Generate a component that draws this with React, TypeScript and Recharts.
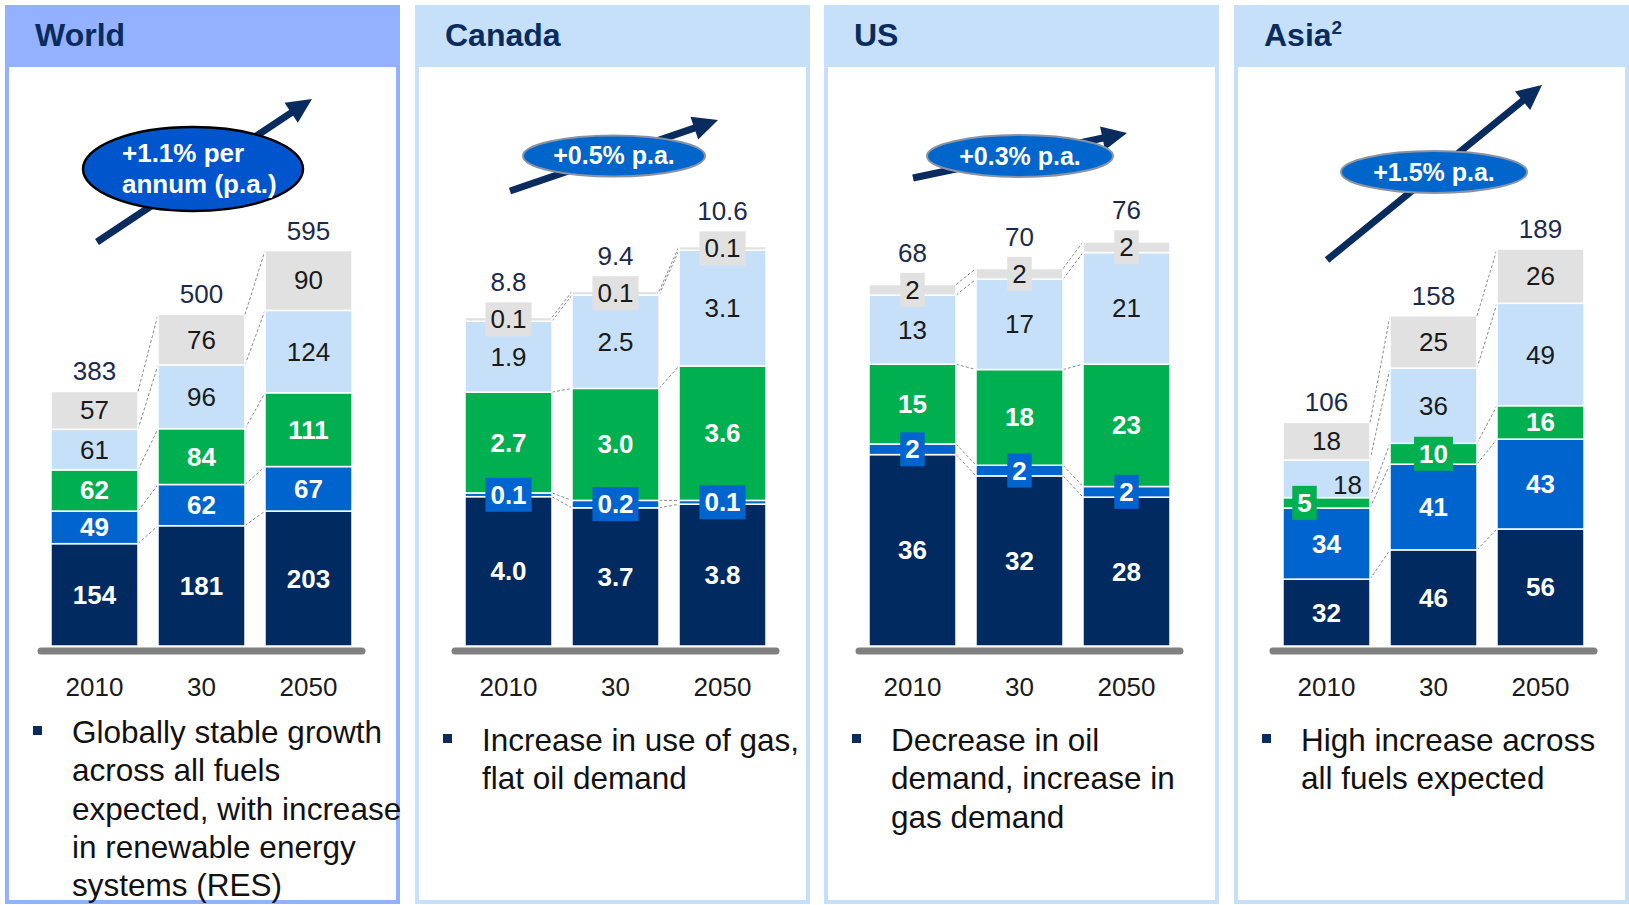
import React from "react";
import { BarChart, Bar, XAxis, YAxis } from "recharts";

const categories = ["2010", "30", "2050"];

// World
const worldOil = [154, 181, 203];
const worldCoal = [49, 62, 67];
const worldGas = [62, 84, 111];
const worldPower = [61, 96, 124];
const worldOther = [57, 76, 90];
const worldTotals = [383, 500, 595];

// Canada
const canadaOil = [4.0, 3.7, 3.8];
const canadaCoal = [0.1, 0.2, 0.1];
const canadaGas = [2.7, 3.0, 3.6];
const canadaPower = [1.9, 2.5, 3.1];
const canadaOther = [0.1, 0.1, 0.1];
const canadaTotals = [8.8, 9.4, 10.6];

// US
const usOil = [36, 32, 28];
const usCoal = [2, 2, 2];
const usGas = [15, 18, 23];
const usPower = [13, 17, 21];
const usOther = [2, 2, 2];
const usTotals = [68, 70, 76];

// Asia
const asiaOil = [32, 46, 56];
const asiaCoal = [34, 41, 43];
const asiaGas = [5, 10, 16];
const asiaPower = [18, 36, 49];
const asiaOther = [18, 25, 26];
const asiaTotals = [106, 158, 189];

const SERIES = [
  { key: "oil", color: "#002A60", text: "#ffffff", bold: true },
  { key: "coal", color: "#0064CE", text: "#ffffff", bold: true },
  { key: "gas", color: "#00AF50", text: "#ffffff", bold: true },
  { key: "power", color: "#C6E0F9", text: "#1a1a1a", bold: false },
  { key: "other", color: "#E1E1E1", text: "#1a1a1a", bold: false },
];

const FONT = '"Liberation Sans", Arial, sans-serif';
const NAVY = "#0A2B5E";
const GAP = 10; // barCategoryGap in px
const PLOT_W = 321;
const PLOT_H = 420;
const PLOT_TOP = 221;

const makeRows = (oil: number[], coal: number[], gas: number[], power: number[], other: number[]) =>
  categories.map((year, i) => ({ year, oil: oil[i], coal: coal[i], gas: gas[i], power: power[i], other: other[i] }));

const panels = [
  {
    id: "world", left: 5, title: "World", sup: "", header: "#93B1FE",
    rows: makeRows(worldOil, worldCoal, worldGas, worldPower, worldOther),
    totals: worldTotals, yMax: 632, decimals: 0, plotLeft: 36,
    note: ["Globally stable growth", "across all fuels", "expected, with increase", "in renewable energy", "systems (RES)"],
    noteTop: 713,
    bubble: { cx: 188, cy: 164, rx: 110, ry: 42, fill: "#0055CC", stroke: "#000", sw: 2.5, lines: ["+1.1% per", "annum (p.a.)"], tx: 117, ty: 157, size: 26 },
    arrow: { x1: 92, y1: 237, x2: 307, y2: 94 },
    nudges: {} as Record<string, { dx?: number; dy?: number }>,
  },
  {
    id: "canada", left: 415, title: "Canada", sup: "", header: "#C6E0FA",
    rows: makeRows(canadaOil, canadaCoal, canadaGas, canadaPower, canadaOther),
    totals: canadaTotals, yMax: 11.25, decimals: 1, plotLeft: 40,
    note: ["Increase in use of gas,", "flat oil demand"],
    noteTop: 721,
    bubble: { cx: 199, cy: 151, rx: 91, ry: 20.5, fill: "#0066CC", stroke: "#8893a6", sw: 2, lines: ["+0.5% p.a."], tx: 199, ty: 159, size: 25 },
    arrow: { x1: 95, y1: 186, x2: 303, y2: 115 },
    nudges: {} as Record<string, { dx?: number; dy?: number }>,
  },
  {
    id: "us", left: 824, title: "US", sup: "", header: "#C6E0FA",
    rows: makeRows(usOil, usCoal, usGas, usPower, usOther),
    totals: usTotals, yMax: 79, decimals: 0, plotLeft: 35,
    note: ["Decrease in oil", "demand, increase in", "gas demand"],
    noteTop: 721,
    bubble: { cx: 196, cy: 151, rx: 93, ry: 21, fill: "#0066CC", stroke: "#8893a6", sw: 2, lines: ["+0.3% p.a."], tx: 196, ty: 160, size: 25 },
    arrow: { x1: 89, y1: 173, x2: 303, y2: 128 },
    nudges: {} as Record<string, { dx?: number; dy?: number }>,
  },
  {
    id: "asia", left: 1234, title: "Asia", sup: "2", header: "#C6E0FA",
    rows: makeRows(asiaOil, asiaCoal, asiaGas, asiaPower, asiaOther),
    totals: asiaTotals, yMax: 201, decimals: 0, plotLeft: 39,
    note: ["High increase across", "all fuels expected"],
    noteTop: 721,
    bubble: { cx: 200, cy: 167, rx: 93, ry: 21, fill: "#0066CC", stroke: "#8893a6", sw: 2, lines: ["+1.5% p.a."], tx: 200, ty: 176, size: 25 },
    arrow: { x1: 93, y1: 255, x2: 308, y2: 80 },
    nudges: { "gas-0": { dx: -22 }, "power-0": { dx: 21, dy: 6 } } as Record<string, { dx?: number; dy?: number }>,
  },
];

const textWidth = (s: string, size: number) =>
  s.split("").reduce((w, ch) => w + (ch === "." ? 0.278 : 0.556) * size, 0);

function Arrow({ x1, y1, x2, y2 }: { x1: number; y1: number; x2: number; y2: number }) {
  const dx = x2 - x1, dy = y2 - y1;
  const len = Math.hypot(dx, dy);
  const ux = dx / len, uy = dy / len;
  const hl = 25, hw = 12;
  const bx = x2 - ux * hl, by = y2 - uy * hl;
  const px = -uy, py = ux;
  return (
    <g>
      <line x1={x1} y1={y1} x2={bx + ux * 3} y2={by + uy * 3} stroke={NAVY} strokeWidth={7} />
      <polygon points={`${x2},${y2} ${bx + px * hw},${by + py * hw} ${bx - px * hw},${by - py * hw}`} fill={NAVY} />
    </g>
  );
}

function Panel({ cfg }: { cfg: (typeof panels)[number] }) {
  const { left, title, sup, header, rows, totals, yMax, decimals, plotLeft, note, noteTop, bubble, arrow, nudges } = cfg;
  const fmt = (v: number) => v.toFixed(decimals);

  const cum = (row: any, upto: number) => SERIES.slice(0, upto + 1).reduce((a, q) => a + row[q.key], 0);

  const makeShape = (si: number) => (p: any) => {
    const { x, y, width, height, index, payload, background } = p;
    const s = SERIES[si];
    const below = si === 0 ? 0 : cum(payload, si - 1);
    const ppu = background && background.height ? background.height / yMax : height / payload[s.key];
    const base = background && background.height ? background.y + background.height : y + height + below * ppu;
    const yOf = (v: number) => base - v * ppu;
    const step = width + 2 * GAP;
    const next = rows[index + 1];

    let labels: React.ReactNode = null;
    if (si === SERIES.length - 1) {
      let topEdge = yOf(cum(payload, SERIES.length - 1));
      const items = SERIES.map((q, qi) => {
        const lo = qi === 0 ? 0 : cum(payload, qi - 1);
        const hi = cum(payload, qi);
        const yTop = yOf(hi), yBot = yOf(lo);
        const n = nudges[`${q.key}-${index}`] || {};
        const cx = x + width / 2 + (n.dx || 0);
        const cy = (yTop + yBot) / 2 + (n.dy || 0);
        const txt = fmt(payload[q.key]);
        const boxed = yBot - yTop < 26;
        const bw = textWidth(txt, 26) + 10;
        if (boxed && qi === SERIES.length - 1) topEdge = Math.min(topEdge, cy - 17);
        return (
          <g key={q.key}>
            {boxed && <rect x={cx - bw / 2} y={cy - 17} width={bw} height={34} fill={q.color} />}
            <text x={cx} y={cy} textAnchor="middle" dominantBaseline="central" fontSize={26}
              fontWeight={q.bold ? "bold" : "normal"} fill={q.text} fontFamily={FONT}>{txt}</text>
          </g>
        );
      });
      labels = (
        <g>
          {items}
          <text x={x + width / 2} y={topEdge - 20} textAnchor="middle" dominantBaseline="central" fontSize={26}
            fill="#1B2A4A" fontFamily={FONT}>{fmt(totals[index])}</text>
        </g>
      );
    }

    return (
      <g>
        <rect x={x} y={y} width={width} height={height} fill={s.color} stroke="#ffffff" strokeWidth={1.5} />
        {next && (
          <line x1={x + width} y1={yOf(cum(payload, si))} x2={x + step} y2={yOf(cum(next, si))}
            stroke="#8c8c8c" strokeWidth={1} strokeDasharray="3 2" />
        )}
        {labels}
      </g>
    );
  };

  return (
    <div style={{ position: "absolute", left, top: 5, width: 395, height: 899, background: header }}>
      <div style={{ position: "absolute", left: 4, right: 4, top: 62, bottom: 4, background: "#ffffff" }} />
      <div style={{ position: "absolute", left: 30, top: -1, height: 62, lineHeight: "62px", fontSize: 32, fontWeight: "bold", color: NAVY, fontFamily: FONT }}>
        {title}
        {sup && <span style={{ fontSize: 19, position: "relative", top: -12 }}>{sup}</span>}
      </div>
      <div style={{ position: "absolute", left: 0, top: 0 }}>
        <BarChart width={395} height={720} data={rows} barCategoryGap={GAP}
          margin={{ top: PLOT_TOP, right: 395 - plotLeft - PLOT_W, left: plotLeft, bottom: 720 - PLOT_TOP - PLOT_H - 60 }}>
          <XAxis dataKey="year" height={60} tickLine={false} tickSize={0}
            axisLine={{ stroke: "#808080", strokeWidth: 7, strokeLinecap: "round", transform: "translate(0,5)" } as any}
            tick={(t: any) => (
              <text x={t.x} y={t.y + 39} textAnchor="middle" dominantBaseline="central" fontSize={26} fill="#1a1a1a" fontFamily={FONT}>
                {t.payload.value}
              </text>
            )} />
          <YAxis hide domain={[0, yMax]} />
          {SERIES.map((s, si) => (
            <Bar key={s.key} dataKey={s.key} stackId="a" fill={s.color} isAnimationActive={false} shape={makeShape(si)} />
          ))}
        </BarChart>
      </div>
      <svg width={395} height={300} style={{ position: "absolute", left: 0, top: 0, overflow: "visible", pointerEvents: "none" }}>
        <Arrow {...arrow} />
        <ellipse cx={bubble.cx} cy={bubble.cy} rx={bubble.rx} ry={bubble.ry} fill={bubble.fill} stroke={bubble.stroke} strokeWidth={bubble.sw} />
        {bubble.lines.map((ln, i) => (
          <text key={i} x={bubble.tx} y={bubble.ty + i * 31} textAnchor={bubble.lines.length > 1 ? "start" : "middle"}
            fontSize={bubble.size} fontWeight="bold" fill="#ffffff" fontFamily={FONT}>{ln}</text>
        ))}
      </svg>
      <div style={{ position: "absolute", left: 0, top: noteTop - 5 }}>
        <div style={{ position: "absolute", left: 28, top: 13, width: 9, height: 9, background: NAVY }} />
        <div style={{ position: "absolute", left: 67, top: 0, fontSize: 31.5, lineHeight: "38.3px", color: "#111111", fontFamily: FONT, whiteSpace: "pre" }}>
          {note.join("\n")}
        </div>
      </div>
    </div>
  );
}

export default function App() {
  return (
    <div style={{ position: "absolute", left: 0, top: 0, width: 1629, height: 905, background: "#ffffff", overflow: "hidden" }}>
      {panels.map((p) => (
        <Panel key={p.id} cfg={p} />
      ))}
    </div>
  );
}
